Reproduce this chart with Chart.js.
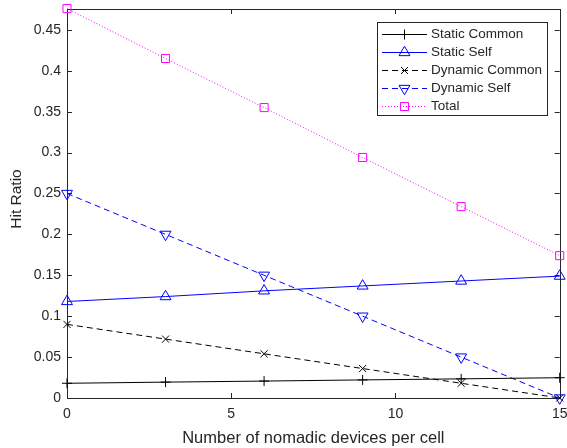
<!DOCTYPE html>
<html><head><meta charset="utf-8">
<script src="https://cdn.jsdelivr.net/npm/chart.js@4"></script>
<style>html,body{margin:0;padding:0;background:#fff}#wrap{width:567px;height:448px}</style>
</head><body><div id="wrap"><canvas id="c" width="567" height="448"></canvas></div>
<script>
const xValues = [0, 3, 6, 9, 12, 15];
const staticCommon = [0.018, 0.0194, 0.0207, 0.0221, 0.0234, 0.0248];
const staticSelf = [0.118, 0.124, 0.131, 0.137, 0.143, 0.149];
const dynamicCommon = [0.090, 0.072, 0.054, 0.036, 0.018, 0.0];
const dynamicSelf = [0.250, 0.200, 0.150, 0.100, 0.050, 0.0];
const total = [0.476, 0.415, 0.355, 0.294, 0.234, 0.174];
const xTicks = [0, 5, 10, 15];
const yTicks = [0, 0.05, 0.1, 0.15, 0.2, 0.25, 0.3, 0.35, 0.4, 0.45];
const seriesNames = ['Static Common', 'Static Self', 'Dynamic Common', 'Dynamic Self', 'Total'];

const FONT = '"Liberation Sans", Arial, sans-serif';
const TXT = '#262626';
const pts = arr => xValues.map((x, i) => ({x: x, y: arr[i]}));

const styles = [
  {color: '#000000', dash: [], pointStyle: 'cross', radius: 5, rot: 0},
  {color: '#0000ff', dash: [], pointStyle: 'triangle', radius: 6.3, rot: 0},
  {color: '#000000', dash: [6, 4], pointStyle: 'crossRot', radius: 5, rot: 0},
  {color: '#0000ff', dash: [6, 4], pointStyle: 'triangle', radius: 6.3, rot: 180},
  {color: '#ff00ff', dash: [1, 2], pointStyle: 'rect', radius: 5.7, rot: 0}
];
const dataArrays = [staticCommon, staticSelf, dynamicCommon, dynamicSelf, total];

const datasets = dataArrays.map((arr, i) => ({
  label: seriesNames[i],
  data: pts(arr),
  borderColor: styles[i].color,
  backgroundColor: 'rgba(0,0,0,0)',
  borderWidth: 1,
  borderDash: styles[i].dash,
  pointStyle: styles[i].pointStyle,
  pointRadius: styles[i].radius,
  pointRotation: styles[i].rot,
  pointBorderColor: styles[i].color,
  pointBackgroundColor: 'rgba(0,0,0,0)',
  pointBorderWidth: 1,
  tension: 0,
  clip: false
}));

const frame = {
  id: 'frame',
  beforeDatasetsDraw(chart) {
    const ctx = chart.ctx, a = chart.chartArea;
    const xs = chart.scales.x, ys = chart.scales.y;
    ctx.save();
    ctx.strokeStyle = '#262626';
    ctx.lineWidth = 1;
    ctx.setLineDash([]);
    ctx.beginPath();
    ctx.rect(Math.round(a.left) + 0.5, Math.round(a.top) + 0.5, Math.round(a.right - a.left), Math.round(a.bottom - a.top));
    ctx.stroke();
    const tl = 5;
    ctx.beginPath();
    xTicks.forEach(v => {
      const px = Math.round(xs.getPixelForValue(v)) + 0.5;
      ctx.moveTo(px, a.bottom); ctx.lineTo(px, a.bottom - tl);
      ctx.moveTo(px, a.top); ctx.lineTo(px, a.top + tl);
    });
    yTicks.forEach(v => {
      const py = Math.round(ys.getPixelForValue(v)) + 0.5;
      ctx.moveTo(a.left, py); ctx.lineTo(a.left + tl, py);
      ctx.moveTo(a.right, py); ctx.lineTo(a.right - tl, py);
    });
    ctx.stroke();
    ctx.fillStyle = TXT;
    ctx.font = '14px ' + FONT;
    ctx.textAlign = 'center'; ctx.textBaseline = 'middle';
    xTicks.forEach(v => ctx.fillText(String(v), xs.getPixelForValue(v), a.bottom + 16));
    ctx.textAlign = 'right'; ctx.textBaseline = 'middle';
    yTicks.forEach(v => ctx.fillText(String(v), a.left - 6, ys.getPixelForValue(v)));
    ctx.font = '16.5px ' + FONT;
    ctx.textAlign = 'center'; ctx.textBaseline = 'middle';
    ctx.fillText('Number of nomadic devices per cell', (a.left + a.right) / 2, 438);
    ctx.font = '15.5px ' + FONT;
    ctx.save();
    ctx.translate(17, 199);
    ctx.rotate(-Math.PI / 2);
    ctx.fillText('Hit Ratio', 0, 0);
    ctx.restore();
    ctx.restore();
  },
  afterDatasetsDraw(chart) {
    const ctx = chart.ctx;
    ctx.save();
    const L = 377, T = 22, R = 547, B = 115;
    ctx.fillStyle = '#ffffff';
    ctx.fillRect(L, T, R - L, B - T);
    ctx.strokeStyle = '#262626';
    ctx.lineWidth = 1;
    ctx.setLineDash([]);
    ctx.strokeRect(L + 0.5, T + 0.5, R - L, B - T);
    ctx.font = '13.5px ' + FONT;
    ctx.textAlign = 'left'; ctx.textBaseline = 'middle';
    chart.data.datasets.forEach((ds, i) => {
      const y = Math.round(33.5 + i * 18) + 0.5;
      ctx.strokeStyle = ds.borderColor;
      ctx.setLineDash(ds.borderDash);
      ctx.beginPath(); ctx.moveTo(382, y); ctx.lineTo(427, y); ctx.stroke();
      ctx.setLineDash([]);
      ctx.fillStyle = 'rgba(0,0,0,0)';
      Chart.helpers.drawPoint(ctx, {pointStyle: ds.pointStyle, rotation: ds.pointRotation, radius: ds.pointRadius, borderWidth: 1}, 404.5, y);
      ctx.fillStyle = TXT;
      ctx.fillText(ds.label, 431, y);
    });
    ctx.restore();
  }
};

new Chart(document.getElementById('c'), {
  type: 'line',
  data: {datasets: datasets},
  options: {
    responsive: false,
    animation: false,
    layout: {padding: {left: 0, right: 2, top: 9, bottom: 0}},
    plugins: {legend: {display: false}, tooltip: {enabled: false}},
    scales: {
      x: {
        type: 'linear', min: 0, max: 15,
        grid: {display: false}, border: {display: false},
        ticks: {display: false},
        afterFit(s) { s.height = 50; }
      },
      y: {
        type: 'linear', min: 0, max: 0.4755,
        grid: {display: false}, border: {display: false},
        ticks: {display: false},
        afterFit(s) { s.width = 67; }
      }
    }
  },
  plugins: [frame]
});
</script></body></html>
